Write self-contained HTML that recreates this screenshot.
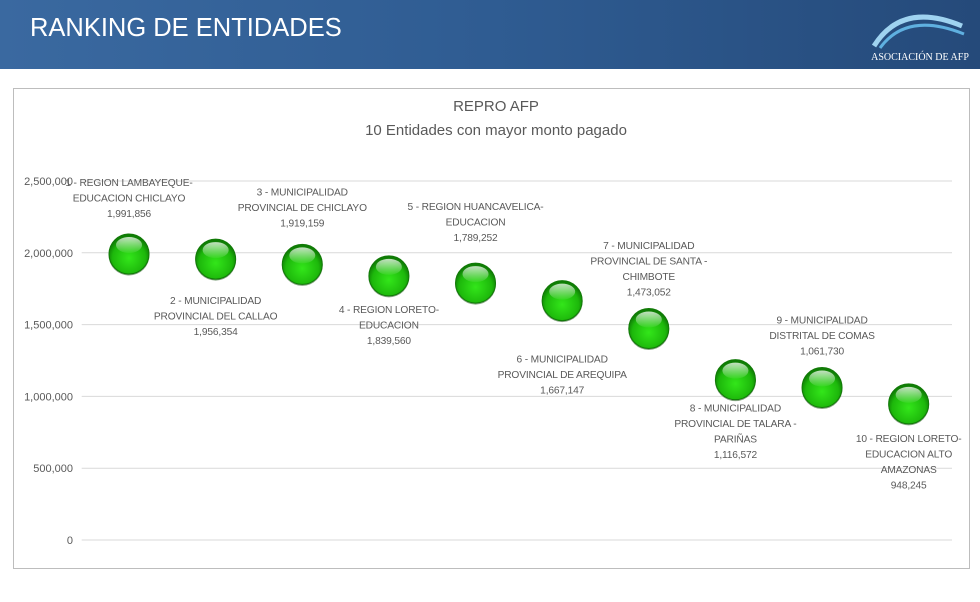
<!DOCTYPE html>
<html><head><meta charset="utf-8">
<style>
body{margin:0;width:980px;height:602px;overflow:hidden;background:#fff;font-family:"Liberation Sans",sans-serif;}
#hdr{position:absolute;left:0;top:0;width:980px;height:69px;background:linear-gradient(90deg,#3a69a0 0%,#2f5c92 50%,#254a7a 100%);}
#hdr h1{position:absolute;left:30px;top:14px;margin:0;color:#fff;font-weight:normal;font-size:25.5px;}
#logo{position:absolute;right:8px;top:6px;}
#box{position:absolute;left:13px;top:88px;width:955px;height:479px;border:1px solid #bdbdbd;}
</style></head><body>
<div id="hdr">
<h1>RANKING DE ENTIDADES</h1>
<svg id="logo" width="110" height="60">
<path d="M12 40 Q40 -5 100 20" stroke="#9fd3f0" stroke-width="5" fill="none"/>
<path d="M18 42 Q45 5 102 28" stroke="#5fb0e0" stroke-width="3" fill="none"/>
<text x="58" y="54" fill="#fff" font-size="10" text-anchor="middle" font-family="Liberation Serif, serif">ASOCIACIÓN DE AFP</text>
</svg>
</div>
<div id="box"></div>
<svg id="chart" width="980" height="602" style="position:absolute;left:0;top:0">
<defs>
<radialGradient id="g" cx="0.5" cy="0.6" r="0.55">
<stop offset="0" stop-color="#33e61a"/><stop offset="0.75" stop-color="#1db80b"/><stop offset="1" stop-color="#0f7d05"/>
</radialGradient>
<linearGradient id="hl" x1="0" y1="0" x2="0" y2="1">
<stop offset="0" stop-color="#fff" stop-opacity="0.75"/><stop offset="1" stop-color="#fff" stop-opacity="0.05"/>
</linearGradient>
</defs>
<text x="496" y="111" text-anchor="middle" font-size="15" fill="#595959">REPRO AFP</text>
<text x="496" y="135" text-anchor="middle" font-size="15" fill="#595959">10 Entidades con mayor monto pagado</text>
<g id="grid"></g><g id="marks"></g>
</svg>
<script>
const categories=[["1 - REGION LAMBAYEQUE-","EDUCACION CHICLAYO"],["2 - MUNICIPALIDAD","PROVINCIAL DEL CALLAO"],["3 - MUNICIPALIDAD","PROVINCIAL DE CHICLAYO"],["4 - REGION LORETO-","EDUCACION"],["5 - REGION HUANCAVELICA-","EDUCACION"],["6 - MUNICIPALIDAD","PROVINCIAL DE AREQUIPA"],["7 - MUNICIPALIDAD","PROVINCIAL DE SANTA -","CHIMBOTE"],["8 - MUNICIPALIDAD","PROVINCIAL DE TALARA -","PARIÑAS"],["9 - MUNICIPALIDAD","DISTRITAL DE COMAS"],["10 - REGION LORETO-","EDUCACION ALTO","AMAZONAS"]];
const values=[1991856,1956354,1919159,1839560,1789252,1667147,1473052,1116572,1061730,948245];
const ticks=[0,500000,1000000,1500000,2000000,2500000];
const labelOffsets=[-41,41,-42,33,-46,58,-37,28,-37,34];
const NS="http://www.w3.org/2000/svg";
const x0=85.7,x1=952,y0=540,y1=181,vmax=2500000;
const bw=(x1-x0)/categories.length;
const xs=i=>x0+bw*(i+0.5);
const ys=v=>y0-(v/vmax)*(y0-y1);
const fmt=v=>v.toLocaleString('en-US');
function mk(t,a,p){const e=document.createElementNS(NS,t);for(const k in a)e.setAttribute(k,a[k]);p.appendChild(e);return e;}
const grid=document.getElementById('grid'),marks=document.getElementById('marks');
ticks.forEach(t=>{
 const l=mk('line',{x1:x0-4,x2:x1,y1:ys(t),y2:ys(t),stroke:'#d9d9d9','stroke-width':1},grid);
 
 
 const tx=mk('text',{x:73,y:ys(t)+4,'text-anchor':'end','font-size':11,fill:'#595959'},grid);
 tx.textContent=fmt(t);
 
 
});
values.forEach((v,i)=>{
 const cx=xs(i),cy=ys(v);
 const g=mk('g',{},marks);
 
 
 mk('circle',{cx:cx,cy:cy+1,r:20.5,fill:'#0a4a04',opacity:0.5},g);
 mk('circle',{cx:cx,cy:cy,r:20,fill:'url(#g)',stroke:'#127a08','stroke-width':1},g);
 mk('ellipse',{cx:cx,cy:cy-9,rx:13,ry:8,fill:'url(#hl)'},g);
 const lines=categories[i].concat([fmt(v)]);
 const off=labelOffsets[i],lh=15.5;
 const first=off<0?cy+off-(lines.length-1)*lh:cy+off;
 const t=mk('text',{'text-anchor':'middle','font-size':10.2,'letter-spacing':-0.15,fill:'#595959'},marks);
 
 
 lines.forEach((s,j)=>{const ts=mk('tspan',{x:cx,y:first+j*lh+4},t);ts.textContent=s;});
});
</script>
</body></html>
